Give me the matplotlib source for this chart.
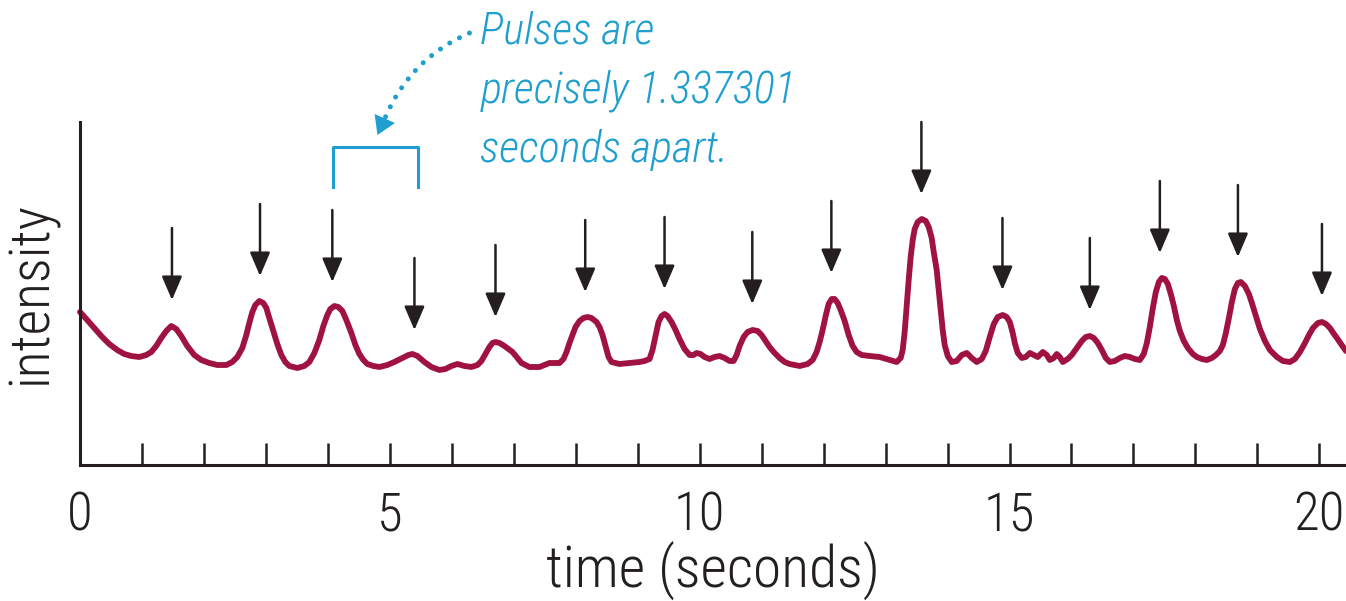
"""
Pulsar signal sketch: intensity vs. time, with arrows marking each pulse
and a note about the 1.337301 s period.
"""

import matplotlib
matplotlib.use("Agg")
import matplotlib.pyplot as plt
from matplotlib import font_manager

# --- signal (time in s, intensity in arbitrary units) ---
time_s = [
    0.00, 0.116, 0.229, 0.358, 0.472, 0.601, 0.714, 0.827, 0.956, 1.069,
    1.150, 1.230, 1.311, 1.392, 1.473, 1.553, 1.634, 1.731, 1.844, 1.957,
    2.086, 2.215, 2.361, 2.458, 2.538, 2.619, 2.684, 2.732, 2.781, 2.829,
    2.894, 2.958, 3.007, 3.055, 3.120, 3.184, 3.249, 3.313, 3.378, 3.507,
    3.620, 3.701, 3.782, 3.862, 3.927, 3.991, 4.040, 4.105, 4.169, 4.234,
    4.298, 4.379, 4.444, 4.508, 4.573, 4.637, 4.734, 4.831, 4.960, 5.073,
    5.203, 5.300, 5.364, 5.445, 5.558, 5.671, 5.800, 5.897, 5.994, 6.091,
    6.204, 6.317, 6.414, 6.478, 6.543, 6.607, 6.656, 6.704, 6.769, 6.849,
    6.979, 7.060, 7.124, 7.253, 7.415, 7.495, 7.576, 7.738, 7.802, 7.851,
    7.899, 7.948, 7.996, 8.061, 8.125, 8.190, 8.254, 8.335, 8.384, 8.432,
    8.480, 8.529, 8.577, 8.706, 8.868, 9.029, 9.110, 9.191, 9.239, 9.288,
    9.336, 9.385, 9.433, 9.481, 9.546, 9.611, 9.675, 9.756, 9.837, 9.901,
    9.950, 10.014, 10.079, 10.160, 10.240, 10.321, 10.402, 10.483, 10.547, 10.596,
    10.644, 10.709, 10.773, 10.854, 10.935, 10.999, 11.064, 11.128, 11.209, 11.290,
    11.371, 11.451, 11.613, 11.742, 11.823, 11.887, 11.936, 11.984, 12.033, 12.081,
    12.130, 12.178, 12.227, 12.275, 12.340, 12.404, 12.469, 12.533, 12.614, 12.743,
    12.905, 13.066, 13.179, 13.244, 13.276, 13.308, 13.341, 13.373, 13.405, 13.438,
    13.470, 13.518, 13.583, 13.648, 13.696, 13.744, 13.777, 13.825, 13.857, 13.890,
    13.922, 13.954, 14.003, 14.067, 14.148, 14.229, 14.310, 14.390, 14.471, 14.552,
    14.616, 14.681, 14.746, 14.810, 14.891, 14.955, 15.004, 15.052, 15.085, 15.133,
    15.198, 15.262, 15.327, 15.391, 15.456, 15.537, 15.601, 15.650, 15.714, 15.763,
    15.811, 15.860, 15.940, 16.005, 16.086, 16.167, 16.231, 16.296, 16.360, 16.425,
    16.489, 16.554, 16.618, 16.699, 16.780, 16.861, 16.941, 17.022, 17.103, 17.167,
    17.216, 17.264, 17.313, 17.361, 17.410, 17.458, 17.506, 17.555, 17.603, 17.652,
    17.700, 17.749, 17.813, 17.878, 17.959, 18.023, 18.104, 18.185, 18.265, 18.330,
    18.394, 18.443, 18.491, 18.540, 18.588, 18.637, 18.685, 18.734, 18.798, 18.863,
    18.911, 18.976, 19.041, 19.121, 19.202, 19.315, 19.412, 19.525, 19.606, 19.687,
    19.767, 19.832, 19.897, 19.977, 20.042, 20.107, 20.171, 20.236, 20.284, 20.349,
    20.430,
]
intensity = [
    153, 145, 137, 128, 121, 115, 111, 109, 108, 110,
    113, 119, 127, 134, 139, 136, 129, 119, 110, 105,
    102, 100, 100, 103, 108, 117, 130, 142, 153, 160,
    164, 162, 157, 147, 134, 121, 110, 103, 99, 97,
    99, 103, 112, 125, 139, 150, 156, 159, 158, 154,
    145, 132, 120, 111, 105, 101, 99, 98, 100, 103,
    107, 110, 111, 109, 103, 98, 95, 96, 99, 101,
    99, 98, 100, 104, 111, 118, 122, 123, 122, 119,
    113, 107, 102, 98, 98, 100, 102, 102, 106, 113,
    122, 130, 138, 144, 147, 148, 147, 143, 138, 130,
    119, 108, 103, 101, 102, 103, 104, 106, 115, 129,
    143, 149, 151, 149, 143, 135, 126, 116, 110, 110,
    112, 111, 108, 106, 108, 109, 107, 104, 104, 110,
    119, 128, 133, 135, 134, 130, 124, 118, 112, 107,
    103, 101, 99, 101, 105, 113, 123, 135, 149, 161,
    166, 166, 162, 155, 144, 130, 119, 113, 110, 109,
    108, 105, 103, 107, 115, 133, 160, 185, 208, 225,
    236, 243, 246, 244, 238, 227, 213, 195, 175, 155,
    135, 120, 109, 103, 104, 110, 112, 107, 103, 106,
    114, 128, 141, 148, 150, 148, 143, 132, 122, 112,
    107, 108, 112, 110, 108, 113, 110, 105, 107, 111,
    108, 103, 106, 110, 117, 124, 128, 129, 127, 122,
    115, 107, 103, 104, 107, 109, 108, 106, 105, 111,
    122, 138, 157, 173, 183, 187, 186, 181, 171, 159,
    145, 134, 124, 117, 111, 108, 106, 105, 107, 110,
    114, 120, 132, 147, 163, 176, 182, 183, 179, 171,
    162, 149, 136, 124, 115, 108, 104, 103, 106, 113,
    122, 130, 137, 142, 143, 141, 137, 131, 127, 121,
    114,
]

# --- pulse markers ---
arrow_time = [1.484, 2.905, 4.072, 5.397, 6.705, 8.153, 9.433, 10.849,
              12.125, 13.578, 14.886, 16.296, 17.426, 18.686, 20.042]
arrow_tip = [165, 189, 183, 135, 148, 173, 176, 161,
             192, 271, 175, 155, 212, 208, 169]
ARROW_LEN = 72

# --- period bracket and note ---
bracket_start, bracket_end = 4.076, 5.449
bracket_top, bracket_leg = 318, 278
note_lines = ["Pulses are", "precisely 1.337301", "seconds apart."]
note_time = 6.46
note_baselines = [421, 362, 303]
pointer_from = (6.285, 432)
pointer_to = (4.929, 348)
pointer_tip = (4.800, 330)

x_ticks = list(range(0, 21))
x_tick_labels = [str(t) if t % 5 == 0 else "" for t in x_ticks]

CURVE = "#a0123f"
BLUE = "#1f9fcf"
INK = "#231f20"


def pick_font():
    available = {f.name for f in font_manager.fontManager.ttflist}
    for cand in ["Roboto Condensed", "IBM Plex Sans Condensed", "Liberation Sans Narrow"]:
        if cand in available:
            return cand
    return "DejaVu Sans"


def main():
    font = pick_font()
    plt.rcParams["font.family"] = [font, "DejaVu Sans"]

    fig = plt.figure(figsize=(13.46, 6.01), dpi=100)
    ax = fig.add_axes([80 / 1346, 136 / 601, 1266 / 1346, 343 / 601])

    ax.plot(time_s, intensity, color=CURVE, lw=4.2, solid_joinstyle="round",
            solid_capstyle="round", clip_on=False)

    for t, tip in zip(arrow_time, arrow_tip):
        ax.annotate("", xy=(t, tip), xytext=(t, tip + ARROW_LEN),
                    arrowprops=dict(arrowstyle="-|>,head_length=1.45,head_width=0.62",
                                    mutation_scale=10, lw=1.8, color=INK,
                                    shrinkA=0, shrinkB=0),
                    annotation_clip=False)

    # bracket spanning one period
    ax.plot([bracket_start, bracket_start, bracket_end, bracket_end],
            [bracket_leg, bracket_top, bracket_top, bracket_leg],
            color=BLUE, lw=2.2, clip_on=False)

    # dotted curved pointer + its head
    ax.annotate("", xy=pointer_to, xytext=pointer_from,
                arrowprops=dict(arrowstyle="-", connectionstyle="arc3,rad=0.2",
                                linestyle=(0, (0.01, 2.2)), lw=3.6, capstyle="round",
                                color=BLUE, shrinkA=0, shrinkB=0),
                annotation_clip=False)
    ax.annotate("", xy=pointer_tip, xytext=pointer_to,
                arrowprops=dict(arrowstyle="-|>,head_length=1.3,head_width=0.8",
                                mutation_scale=10, lw=0, color=BLUE,
                                shrinkA=0, shrinkB=0),
                annotation_clip=False)

    for line, base in zip(note_lines, note_baselines):
        ax.text(note_time, base, line, color=BLUE, fontsize=32, style="italic",
                weight="light", ha="left", va="baseline", clip_on=False)

    ax.set_xlim(0, 20.43)
    ax.set_ylim(0, 343)
    ax.set_xticks(x_ticks)
    ax.set_xticklabels(x_tick_labels)
    ax.set_yticks([])
    ax.tick_params(axis="x", direction="in", length=16, width=1.8, color=INK,
                   labelsize=38, pad=18, labelcolor=INK)
    for lbl in ax.get_xticklabels():
        lbl.set_fontweight("light")

    for side in ["top", "right"]:
        ax.spines[side].set_visible(False)
    for side in ["left", "bottom"]:
        ax.spines[side].set_linewidth(2.2)
        ax.spines[side].set_color(INK)

    ax.set_xlabel("time (seconds)", fontsize=41.5, weight="light", color=INK, labelpad=0)
    ax.set_ylabel("intensity", fontsize=40, weight="light", color=INK)
    ax.yaxis.set_label_coords(-0.017, 0.5)

    fig.savefig("out.png", dpi=100)
    plt.close(fig)


if __name__ == "__main__":
    main()
